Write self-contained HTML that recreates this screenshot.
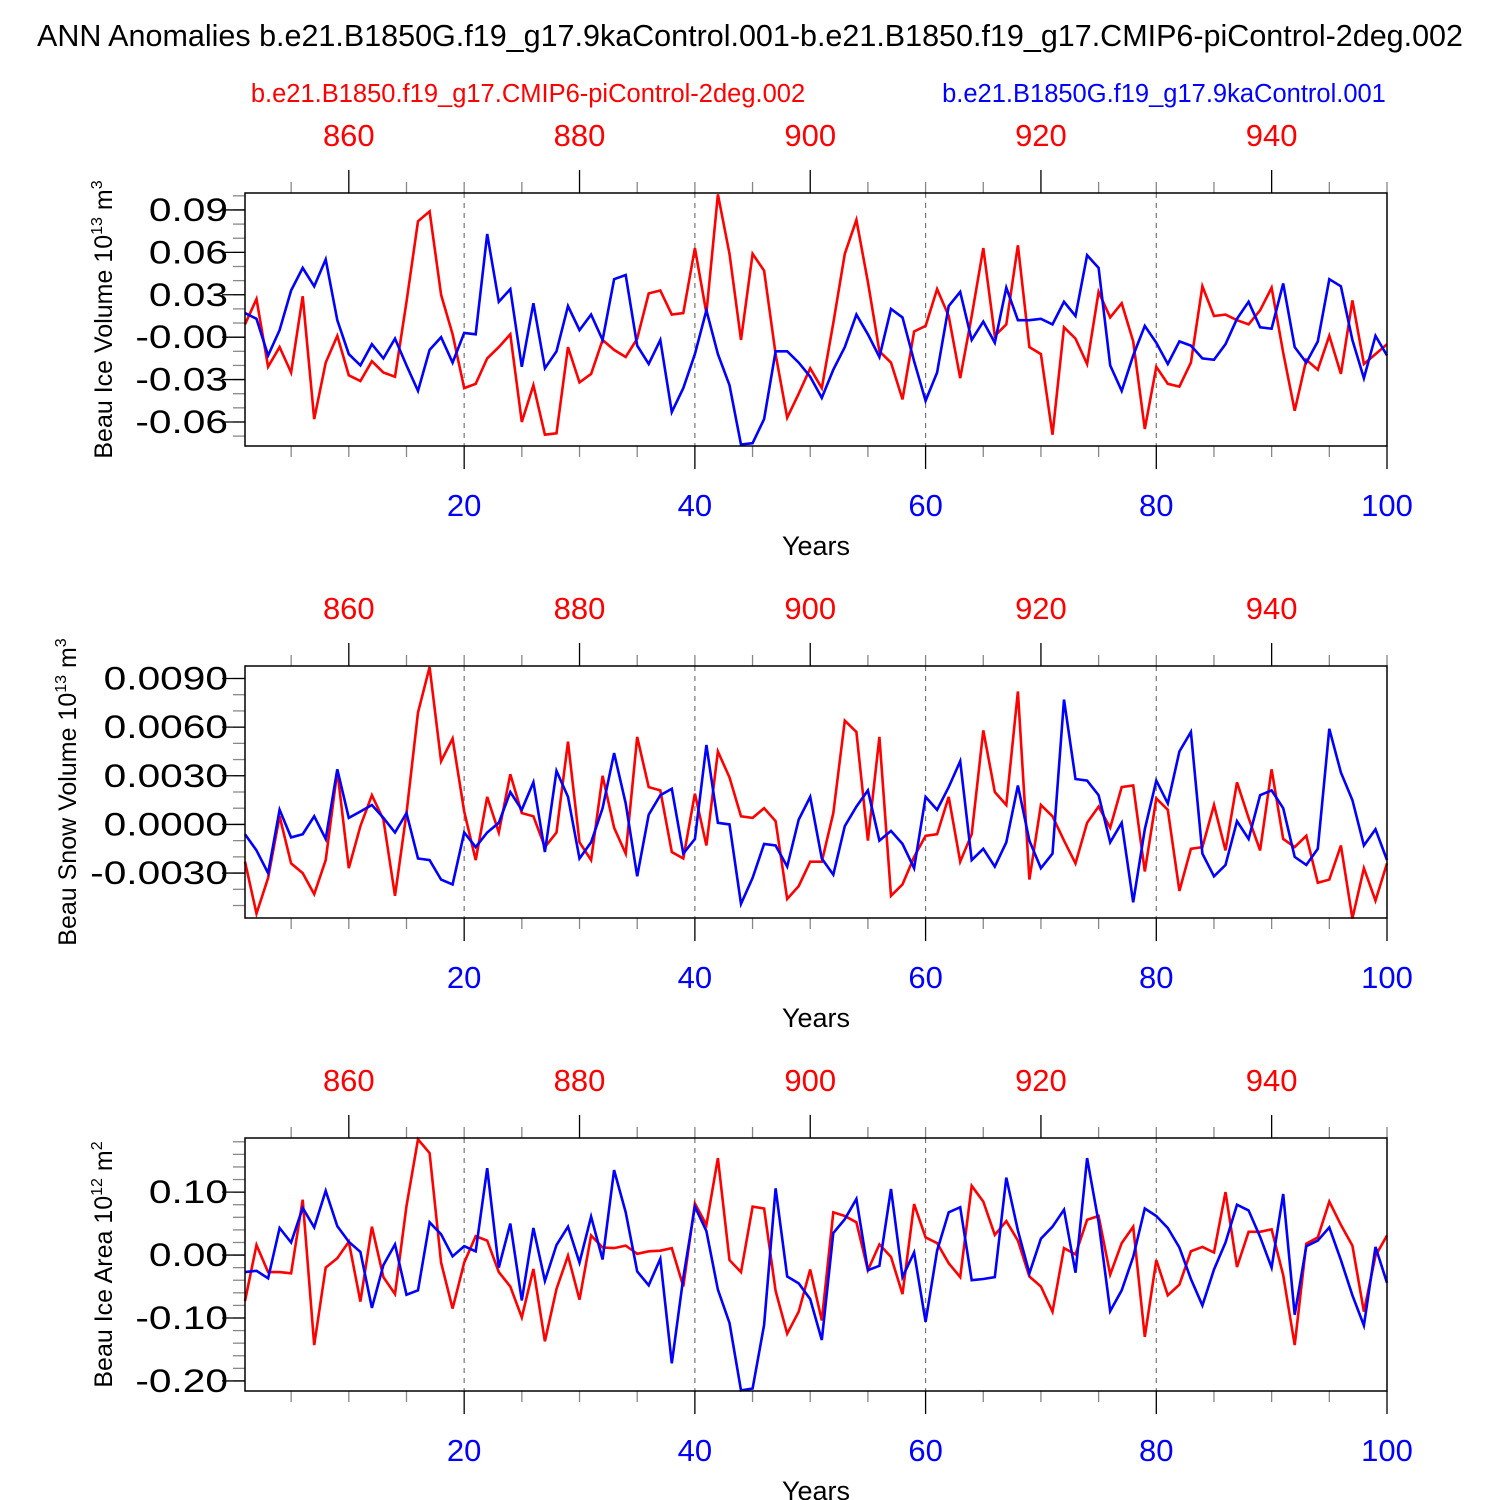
<!DOCTYPE html>
<html><head><meta charset="utf-8"><style>
html,body{margin:0;padding:0;background:#fff}
svg{display:block}
text{font-family:"Liberation Sans",Arial,sans-serif}
</style></head><body>
<svg id="chart" width="1500" height="1500" viewBox="0 0 1500 1500" xmlns="http://www.w3.org/2000/svg">
<text x="750" y="46" font-size="30.5" text-anchor="middle">ANN Anomalies b.e21.B1850G.f19_g17.9kaControl.001-b.e21.B1850.f19_g17.CMIP6-piControl-2deg.002</text>
<text x="528" y="102" font-size="25.5" fill="#ff0000" text-anchor="middle">b.e21.B1850.f19_g17.CMIP6-piControl-2deg.002</text>
<text x="1164" y="102" font-size="25.5" fill="#0000ff" text-anchor="middle">b.e21.B1850G.f19_g17.9kaControl.001</text>
</svg>
<script>
const years = Array.from({length:100},(_,i)=>i+1);
const iceVolBlue=[0.017,0.013,-0.013,0.005,0.033,0.049,0.036,0.055,0.012,-0.012,-0.020,-0.005,-0.015,-0.001,-0.020,-0.038,-0.009,0.000,-0.018,0.003,0.002,0.073,0.025,0.034,-0.021,0.024,-0.022,-0.010,0.022,0.005,0.016,-0.002,0.041,0.044,-0.006,-0.019,-0.002,-0.053,-0.036,-0.012,0.019,-0.012,-0.034,-0.076,-0.075,-0.058,-0.010,-0.010,-0.018,-0.028,-0.043,-0.023,-0.007,0.016,0.002,-0.014,0.020,0.014,-0.017,-0.045,-0.025,0.022,0.032,-0.002,0.011,-0.004,0.035,0.012,0.012,0.013,0.009,0.025,0.015,0.058,0.049,-0.020,-0.038,-0.013,0.008,-0.004,-0.019,-0.003,-0.006,-0.015,-0.016,-0.005,0.013,0.025,0.007,0.006,0.038,-0.007,-0.018,-0.003,0.041,0.036,-0.002,-0.029,0.001,-0.013];
const iceVolRed=[0.009,0.027,-0.021,-0.007,-0.025,0.029,-0.058,-0.018,0.001,-0.027,-0.031,-0.017,-0.025,-0.028,0.025,0.082,0.089,0.030,0.002,-0.036,-0.033,-0.015,-0.007,0.002,-0.060,-0.034,-0.069,-0.068,-0.007,-0.032,-0.026,-0.002,-0.009,-0.014,-0.001,0.031,0.033,0.016,0.017,0.063,0.017,0.101,0.059,-0.002,0.059,0.047,-0.012,-0.057,-0.040,-0.022,-0.036,0.010,0.059,0.083,0.039,-0.010,-0.018,-0.044,0.004,0.008,0.034,0.015,-0.029,0.015,0.063,0.001,0.009,0.065,-0.007,-0.012,-0.069,0.007,-0.001,-0.019,0.032,0.014,0.024,-0.003,-0.065,-0.021,-0.033,-0.035,-0.018,0.036,0.015,0.016,0.012,0.009,0.019,0.035,-0.011,-0.052,-0.016,-0.023,0.001,-0.026,0.026,-0.019,-0.012,-0.005];
const snowBlue=[-0.6,-1.6,-3.0,0.9,-0.8,-0.6,0.5,-0.9,3.4,0.4,0.8,1.2,0.4,-0.5,0.7,-2.1,-2.2,-3.4,-3.7,-0.5,-1.4,-0.5,0.1,2.0,0.9,2.6,-1.7,3.3,1.7,-2.1,-1.1,1.0,4.4,1.3,-3.2,0.6,1.8,2.2,-1.8,-0.9,4.9,0.1,0.0,-4.9,-3.3,-1.2,-1.3,-2.6,0.3,1.7,-2.1,-3.1,-0.1,1.1,2.1,-1.0,-0.4,-1.2,-2.7,1.7,0.9,2.3,3.9,-2.2,-1.5,-2.6,-1.1,2.4,-1.0,-2.7,-1.8,7.7,2.8,2.7,1.8,-1.1,0.1,-4.8,-0.3,2.7,1.3,4.5,5.7,-1.8,-3.2,-2.5,0.2,-0.9,1.8,2.1,1.0,-2.0,-2.5,-1.5,5.9,3.2,1.5,-1.3,-0.3,-2.2];
const snowRed=[-2.3,-5.5,-3.3,0.5,-2.4,-3.0,-4.3,-2.2,3.3,-2.7,-0.1,1.8,0.3,-4.4,0.7,6.9,9.7,3.9,5.3,0.8,-2.2,1.7,-0.5,3.1,0.7,0.5,-1.4,-0.5,5.1,-1.1,-2.2,3.0,-0.2,-1.8,5.4,2.3,2.1,-1.7,-2.1,1.9,-1.3,4.5,2.9,0.5,0.4,1.0,0.2,-4.6,-3.8,-2.3,-2.3,0.7,6.4,5.7,-1.0,5.4,-4.4,-3.7,-2.0,-0.7,-0.6,1.7,-2.3,-0.6,5.8,2.0,1.2,8.2,-3.4,1.2,0.5,-1.0,-2.4,0.1,1.1,-0.2,2.3,2.4,-2.9,1.6,0.9,-4.1,-1.5,-1.4,1.2,-1.6,2.6,0.4,-1.6,3.4,-0.9,-1.4,-0.7,-3.6,-3.4,-1.3,-5.8,-2.7,-4.7,-2.4];
const areaBlue=[-0.027,-0.025,-0.037,0.043,0.020,0.075,0.044,0.102,0.046,0.021,0.005,-0.084,-0.016,0.017,-0.063,-0.056,0.052,0.033,-0.002,0.014,0.006,0.138,-0.020,0.050,-0.072,0.043,-0.041,0.016,0.045,-0.012,0.061,-0.007,0.135,0.068,-0.026,-0.048,-0.006,-0.172,-0.036,0.077,0.038,-0.055,-0.108,-0.215,-0.212,-0.111,0.106,-0.034,-0.045,-0.070,-0.135,0.035,0.057,0.089,-0.024,-0.017,0.105,-0.035,0.004,-0.106,0.007,0.068,0.076,-0.040,-0.038,-0.035,0.123,0.039,-0.029,0.026,0.045,0.072,-0.028,0.154,0.052,-0.089,-0.056,-0.003,0.074,0.062,0.043,0.012,-0.038,-0.080,-0.023,0.020,0.080,0.071,0.029,-0.020,0.097,-0.095,0.014,0.023,0.044,-0.008,-0.064,-0.112,0.013,-0.044];
const areaRed=[-0.073,0.016,-0.027,-0.027,-0.029,0.088,-0.143,-0.020,-0.005,0.021,-0.074,0.045,-0.035,-0.062,0.078,0.184,0.162,-0.012,-0.085,-0.012,0.030,0.023,-0.027,-0.050,-0.099,-0.022,-0.137,-0.054,-0.001,-0.071,0.031,0.012,0.011,0.015,0.002,0.006,0.007,0.011,-0.050,0.082,0.048,0.154,-0.008,-0.027,0.077,0.074,-0.057,-0.125,-0.090,-0.023,-0.104,0.068,0.062,0.052,-0.024,0.017,-0.003,-0.062,0.081,0.028,0.019,-0.013,-0.035,0.110,0.085,0.032,0.054,0.023,-0.034,-0.050,-0.090,0.011,0.001,0.056,0.062,-0.031,0.019,0.045,-0.130,-0.008,-0.064,-0.047,0.006,0.013,0.004,0.100,-0.019,0.037,0.037,0.041,-0.032,-0.143,0.018,0.028,0.085,0.048,0.015,-0.090,-0.001,0.031];
const bottomTicks=[20,40,60,80,100];
const topTicks=[860,880,900,920,940];
const yTicks1=["0.09","0.06","0.03","-0.00","-0.03","-0.06"];
const yTicks2=["0.0090","0.0060","0.0030","0.0000","-0.0030"];
const yTicks3=["0.10","0.00","-0.10","-0.20"];

const svg=document.getElementById('chart');
const NS='http://www.w3.org/2000/svg';
function mk(tag,attrs,parent){const e=document.createElementNS(NS,tag);for(const k in attrs)e.setAttribute(k,attrs[k]);(parent||svg).appendChild(e);return e;}
const X0=245,X1=1387;
function xs(yr){return X0+(yr-1)*(X1-X0)/99;}

const panels=[
 {top:193,bot:446,vmax:0.102,vmin:-0.077,blue:iceVolBlue,red:iceVolRed,scale:1,ticks:yTicks1,tickVals:[0.09,0.06,0.03,0,-0.03,-0.06],minorStep:0.01,title:"Beau Ice Volume 10",exp:"13",unit:" m",uexp:"3",tx:112,name:"ice-volume"},
 {top:666,bot:918,vmax:0.00977,vmin:-0.00577,blue:snowBlue,red:snowRed,scale:0.001,ticks:yTicks2,tickVals:[0.009,0.006,0.003,0,-0.003],minorStep:0.001,title:"Beau Snow Volume 10",exp:"13",unit:" m",uexp:"3",tx:76,name:"snow-volume"},
 {top:1138,bot:1391,vmax:0.186,vmin:-0.216,blue:areaBlue,red:areaRed,scale:1,ticks:yTicks3,tickVals:[0.1,0,-0.1,-0.2],minorStep:0.02,title:"Beau Ice Area 10",exp:"12",unit:" m",uexp:"2",tx:112,name:"ice-area"}
];

panels.forEach((p,pi)=>{
 const g=mk('g',{});
 
 
 const ys=v=>p.top+(p.vmax-v)/(p.vmax-p.vmin)*(p.bot-p.top);
 [20,40,60,80].forEach(yr=>{
  const l=mk('line',{x1:xs(yr),x2:xs(yr),y1:p.top,y2:p.bot,stroke:'#777','stroke-width':1.2,'stroke-dasharray':'5,5'},g);
  
  
 });
 for(let yr=5;yr<=100;yr+=5){
  const x=xs(yr);
  const majB=yr%20===0, majT=(yr-10)%20===0;
  mk('line',{x1:x,x2:x,y1:p.bot,y2:p.bot+(majB?23:11),stroke:majB?'#000':'#888','stroke-width':1.3},g);
  mk('line',{x1:x,x2:x,y1:p.top,y2:p.top-(majT?23:11),stroke:majT?'#000':'#888','stroke-width':1.3},g);
 }
 bottomTicks.forEach(v=>{
  const t=mk('text',{x:xs(v),y:p.bot+70,'font-size':31,fill:'#0000ff','text-anchor':'middle'},g);
  t.textContent=v;
  
  
 });
 topTicks.forEach(v=>{
  const t=mk('text',{x:xs(v-850),y:p.top-47,'font-size':31,fill:'#ff0000','text-anchor':'middle'},g);
  t.textContent=v;
  
  
 });
 const xt=mk('text',{x:816,y:p.bot+109,'font-size':27,'text-anchor':'middle'},g);
 xt.textContent='Years';
 
 
 const n0=Math.ceil(p.vmin/p.minorStep-1e-6), n1=Math.floor(p.vmax/p.minorStep+1e-6);
 for(let n=n0;n<=n1;n++){
  const y=ys(n*p.minorStep);
  mk('line',{x1:X0-12,x2:X0,y1:y,y2:y,stroke:'#888','stroke-width':1.3},g);
 }
 p.tickVals.forEach((v,i)=>{
  const y=ys(v);
  mk('line',{x1:X0-23,x2:X0,y1:y,y2:y,stroke:'#000','stroke-width':1.3},g);
  const t=mk('text',{x:228,y:y+11,'font-size':32,'text-anchor':'end'},g);
  t.textContent=p.ticks[i];
  
  
  const w=t.getComputedTextLength();
  if(w>0){t.setAttribute('textLength',(w*1.27).toFixed(1));t.setAttribute('lengthAdjust','spacingAndGlyphs');}
 });
 const cy=(p.top+p.bot)/2;
 const yt=mk('text',{x:0,y:0,'font-size':25,'text-anchor':'middle',transform:`translate(${p.tx},${cy}) rotate(-90)`},g);
 
 
 yt.appendChild(document.createTextNode(p.title));
 const s1=mk('tspan',{'font-size':16,dy:-10},yt); s1.textContent=p.exp;
 const s2=mk('tspan',{dy:10},yt); s2.textContent=p.unit;
 const s3=mk('tspan',{'font-size':16,dy:-10},yt); s3.textContent=p.uexp;
 [['red','#ff0000'],['blue','#0000ff']].forEach(([k,c])=>{
  const arr=p[k];
  const d=arr.map((v,i)=>(i?'L':'M')+xs(years[i]).toFixed(1)+','+ys(v*p.scale).toFixed(1)).join(' ');
  const path=mk('path',{d:d,fill:'none',stroke:c,'stroke-width':2.6,'stroke-linejoin':'miter'},g);
  
  
 });
 const fr=mk('rect',{x:X0,y:p.top,width:X1-X0,height:p.bot-p.top,fill:'none',stroke:'#000','stroke-width':1.5},g);
 
 
});
</script>
</body></html>
